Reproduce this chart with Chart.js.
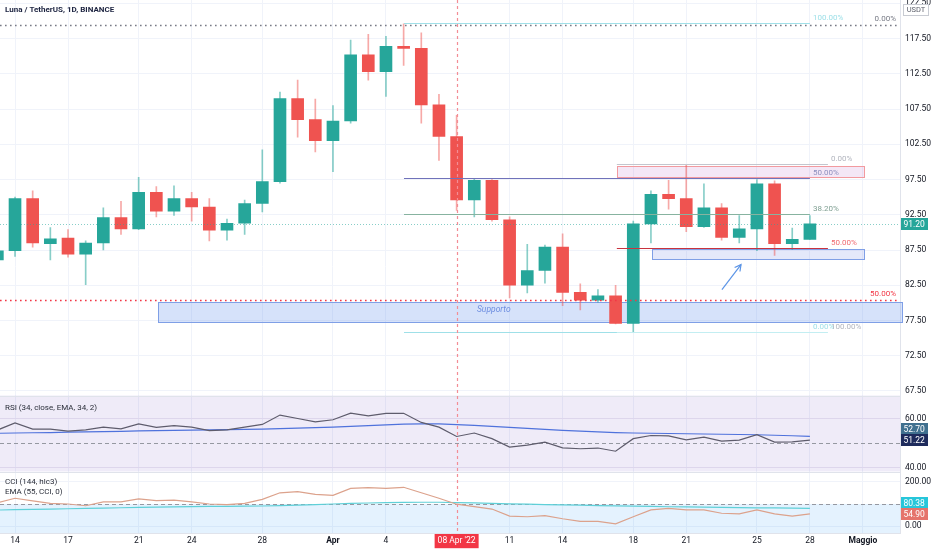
<!DOCTYPE html>
<html>
<head>
<meta charset="utf-8">
<title>Luna / TetherUS</title>
<script src="https://cdn.jsdelivr.net/npm/chart.js@4.4.1/dist/chart.umd.min.js"></script>
<style>
  body { margin: 0; background: #ffffff; }
  #box { width: 932px; height: 550px; }
</style>
</head>
<body>
<div id="box"><canvas id="lunaChart" width="932" height="550"></canvas></div>
<script>
    // day 0 = 14 Mar 2022, one daily candle from 13 Mar to 28 Apr
    var days  = [-1, 0, 1, 2, 3, 4, 5, 6, 7, 8, 9, 10, 11, 12, 13, 14, 15, 16, 17, 18, 19, 20, 21, 22, 23,
                 24, 25, 26, 27, 28, 29, 30, 31, 32, 33, 34, 35, 36, 37, 38, 39, 40, 41, 42, 43, 44, 45];
    var open  = [86.1, 87.4, 94.8, 88.4, 89.2, 86.9, 88.5, 92.1, 90.5, 95.7, 93.0, 94.8, 93.6, 90.3, 91.3, 94.1,
                 97.2, 109.0, 106.0, 103.0, 105.8, 115.2, 112.8, 116.4, 116.1, 108.1, 103.6, 94.6, 97.4, 91.8,
                 82.5, 84.6, 87.9, 81.5, 80.4, 81.0, 77.1, 91.2, 95.4, 94.8, 90.8, 93.5, 89.3, 90.5, 96.9, 88.4, 89.0];
    var high  = [88.0, 95.0, 95.9, 90.7, 90.4, 88.8, 93.5, 94.4, 97.8, 96.5, 96.6, 95.7, 94.8, 91.9, 94.6, 101.7,
                 109.9, 111.6, 108.9, 108.0, 117.3, 118.1, 117.8, 119.6, 118.3, 109.6, 106.6, 97.6, 97.5, 92.2,
                 88.3, 88.2, 89.8, 82.7, 81.9, 82.5, 91.6, 95.9, 97.4, 99.5, 96.9, 94.1, 92.4, 97.5, 97.3, 90.6, 92.4];
    var low   = [85.6, 86.6, 87.9, 86.1, 86.5, 82.6, 87.5, 89.7, 90.4, 92.2, 92.4, 91.6, 88.8, 88.9, 89.7, 92.9,
                 97.0, 103.5, 101.4, 98.6, 105.5, 111.6, 109.3, 113.7, 105.5, 100.2, 93.1, 92.2, 91.6, 80.7,
                 81.4, 82.8, 79.6, 79.0, 80.1, 77.0, 75.8, 88.5, 93.3, 90.1, 90.7, 88.9, 88.5, 87.4, 86.75, 87.6, 89.0];
    var close = [87.4, 94.8, 88.5, 89.1, 86.9, 88.5, 92.1, 90.5, 95.7, 93.0, 94.8, 93.6, 90.3, 91.3, 94.1, 97.2,
                 109.0, 106.0, 103.0, 105.8, 115.2, 112.8, 116.4, 116.1, 108.1, 103.6, 94.6, 97.4, 91.8, 82.5,
                 84.6, 87.9, 81.5, 80.4, 81.0, 77.1, 91.2, 95.4, 94.8, 90.8, 93.5, 89.3, 90.5, 96.9, 88.4, 89.0, 91.2];

    var rsi    = [55.3, 58.2, 55.7, 55.7, 54.9, 55.4, 56.5, 55.8, 57.8, 56.4, 57.1, 56.5, 55.1, 55.4, 56.5, 57.6,
                  61.4, 60.0, 58.6, 59.5, 62.2, 61.1, 62.1, 62.1, 58.4, 56.5, 52.7, 54.1, 51.8, 48.4, 49.2, 50.4,
                  48.1, 47.7, 48.0, 46.7, 51.8, 53.1, 52.9, 51.3, 52.4, 50.8, 51.2, 53.4, 50.4, 50.5, 51.22];
    var rsiEma = [54.0, 54.1, 54.2, 54.3, 54.5, 54.6, 54.7, 54.8, 55.0, 55.1, 55.2, 55.3, 55.4, 55.5, 55.6, 55.7,
                  55.9, 56.1, 56.3, 56.5, 56.8, 57.1, 57.4, 57.7, 57.8, 57.8, 57.5, 57.2, 56.8, 56.4, 56.0, 55.6,
                  55.2, 54.9, 54.6, 54.3, 54.1, 54.0, 53.9, 53.8, 53.7, 53.6, 53.5, 53.4, 53.2, 53.0, 52.7];
    var cci    = [105, 126, 114, 103, 100, 92, 110, 110, 123, 115, 118, 110, 100, 97, 103, 121, 151, 156, 144,
                  139, 171, 174, 171, 176, 151, 126, 99, 88, 77, 45, 42, 47, 33, 21, 21, 10, 42, 73, 80, 73, 73,
                  58, 55, 73, 55, 45, 54.9];
    var cciEma = [72.5, 74, 75.5, 77, 78.5, 80, 81.5, 83, 85, 86, 87, 88, 89, 89.5, 90, 91, 93, 95, 97.5,
                  100, 102.5, 104.5, 106, 107.5, 108, 108, 106.5, 105, 103, 100.5, 99, 97.5, 96, 94.5, 93, 91.5,
                  90, 88.8, 87.6, 86.5, 85.5, 84.5, 83.6, 82.8, 82, 81.2, 80.38];

    var tickDays   = [0, 3, 7, 10, 14, 18, 21, 25, 28, 31, 35, 38, 42, 45, 48];
    var tickLabels = ['14', '17', '21', '24', '28', 'Apr', '4', "08 Apr '22", '11', '14', '18', '21', '25', '28', 'Maggio'];
    var monthDays  = [18, 48];
    var priceTicks = [67.5, 72.5, 77.5, 82.5, 87.5, 92.5, 97.5, 102.5, 107.5, 112.5, 117.5, 122.5];
    var rsiTicks   = [40, 60];
    var cciTicks   = [0, 200];

    // drawings on the chart, in days / price units
    var cursorDay   = 25;
    var topLevel    = 119.42;
    var midLevel    = 80.36;
    var supportZone = { from: 8.1, to: 55, top: 80.07, bottom: 77.23 };
    var rangeZone   = { from: 34.07, to: 48.07, top: 99.43, bottom: 97.87 };
    var retestZone  = { from: 36.07, to: 48.07, top: 87.64, bottom: 86.22 };
    var fibDrop     = { from: 22.02, to: 45, high: 119.7, low: 75.85, levels: [1, 0.5, 0.382, 0] };
    var fibBounce   = { from: 34.07, to: 46.02, high: 99.67, low: 75.85, levels: [0, 0.5, 1] };
    var arrowFrom   = [40.02, 81.88], arrowTo = [41.1, 85.43];
    var rsiBand = [70, 30], rsiMid = 50, cciBand = [100, -100];

    var up = '#26a69a', down = '#ef5350';
    var font = 'Roboto, "Noto Sans", sans-serif';
    Chart.defaults.font.family = font;
    Chart.defaults.font.size = 8.5;
    Chart.defaults.color = '#131722';

    var bodyColors = open.map(function (o, i) { return close[i] >= o ? up : down; });
    var wickColors = open.map(function (o, i) { return close[i] >= o ? 'rgba(38,166,154,0.55)' : 'rgba(239,83,80,0.5)'; });
    var bodies = days.map(function (d, i) { return { x: d, y: [open[i], close[i]] }; });
    var wicks = days.map(function (d, i) { return { x: d, y: [low[i], high[i]] }; });
    function series(vals) { return days.map(function (d, i) { return { x: d, y: vals[i] }; }); }

    function hline(c, chart, x1, x2, y, color, width, dash) {
        c.save();
        c.strokeStyle = color;
        c.lineWidth = width;
        c.setLineDash(dash || []);
        var py = Math.round(y) + 0.5;
        c.beginPath(); c.moveTo(x1, py); c.lineTo(x2, py); c.stroke();
        c.restore();
    }
    function label(c, text, x, y, color, f, align, base) {
        c.fillStyle = color;
        c.font = f || ('8px ' + font);
        c.textAlign = align || 'left';
        c.textBaseline = base || 'bottom';
        c.fillText(text, x, y);
    }
    function zone(c, chart, z, fill, stroke) {
        var xs = chart.scales.x, ys = chart.scales.y, a = chart.chartArea;
        var l = Math.round(xs.getPixelForValue(z.from)), r = Math.round(Math.min(xs.getPixelForValue(z.to), a.right + 2));
        var t = Math.round(ys.getPixelForValue(z.top)), b = Math.round(ys.getPixelForValue(z.bottom));
        c.fillStyle = fill;
        c.fillRect(l, t, r - l, b - t);
        c.strokeStyle = stroke;
        c.lineWidth = 1;
        c.strokeRect(l + 0.5, t + 0.5, r - l, b - t);
    }
    function band(c, a, scale, lim, color) {
        var t = Math.max(scale.getPixelForValue(lim[0]), scale.top);
        var b = Math.min(scale.getPixelForValue(lim[1]), scale.bottom);
        c.fillStyle = color;
        c.fillRect(a.left, t, a.right - a.left, b - t);
    }
    function tag(c, chart, y, text, bg) {
        var a = chart.chartArea;
        c.fillStyle = bg;
        c.fillRect(a.right + 1, Math.round(y) - 6, 27, 12);
        label(c, text, a.right + 3.5, Math.round(y) + 0.5, '#ffffff', '8.5px ' + font, 'left', 'middle');
    }
    function tagPair(c, chart, scale, hiVal, hiColor, loVal, loColor) {
        var yHi = scale.getPixelForValue(hiVal), yLo = scale.getPixelForValue(loVal);
        if (yLo - yHi < 11) yHi = yLo - 11;
        tag(c, chart, yHi, hiVal.toFixed(2), hiColor);
        tag(c, chart, yLo, loVal.toFixed(2), loColor);
    }

    var overlays = {
        id: 'overlays',
        beforeDatasetsDraw: function (chart) {
            var c = chart.ctx, s = chart.scales, a = chart.chartArea;
            c.save();
            band(c, a, s.yRsi, rsiBand, 'rgba(126,87,194,0.12)');
            band(c, a, s.yCci, cciBand, 'rgba(33,150,243,0.12)');
            hline(c, chart, a.left, a.right, s.yRsi.getPixelForValue(rsiMid), '#9598a1', 1, [4, 3]);
            hline(c, chart, a.left, a.right, s.yCci.getPixelForValue(cciBand[0]), '#9598a1', 1, [4, 3]);
            zone(c, chart, supportZone, 'rgba(120,160,240,0.3)', '#7f9fe6');
            zone(c, chart, rangeZone, 'rgba(186,104,200,0.16)', '#f29a9f');
            zone(c, chart, retestZone, 'rgba(120,140,230,0.2)', '#7f9fe6');
            // pane separators
            hline(c, chart, a.left, a.right, s.y.bottom, '#e0e3eb', 1);
            hline(c, chart, a.left, a.right, s.yRsi.bottom, '#e0e3eb', 1);
            c.restore();
        },
        afterDatasetsDraw: function (chart) {
            var c = chart.ctx, s = chart.scales, a = chart.chartArea, xs = s.x, ys = s.y;
            c.save();
            // long dotted levels
            hline(c, chart, a.left, a.right, ys.getPixelForValue(topLevel), '#787b86', 1.6, [1.6, 3.4]);
            label(c, '0.00%', a.right - 4, ys.getPixelForValue(topLevel) - 2, '#787b86', '8px ' + font, 'right');
            hline(c, chart, a.left, a.right, ys.getPixelForValue(midLevel), '#f23645', 1.6, [1.6, 3.4]);
            label(c, '50.00%', a.right - 4, ys.getPixelForValue(midLevel) - 2, '#f23645', '8px ' + font, 'right');
            // last price
            hline(c, chart, a.left, a.right, ys.getPixelForValue(close[close.length - 1]), 'rgba(38,166,154,0.55)', 1, [1, 2]);

            // fib retracement of the drop, levels measured from the low
            var dropColors = { 1: '#9fe0e8', 0.5: '#7072ba', 0.382: '#87b3a0', 0: '#9fe0e8' };
            var dropText = { 1: '#9fe0e8', 0.5: '#8d8fbf', 0.382: '#7f9f92', 0: '#9fe0e8' };
            var x1 = xs.getPixelForValue(fibDrop.from), x2 = xs.getPixelForValue(fibDrop.to);
            fibDrop.levels.forEach(function (lv) {
                var y = ys.getPixelForValue(fibDrop.low + lv * (fibDrop.high - fibDrop.low));
                hline(c, chart, x1, x2, y, dropColors[lv], 1.2);
                label(c, (lv * 100).toFixed(2) + '%', x2 + 3, y - 1, dropText[lv]);
            });
            // fib of the bounce, levels measured from the high
            var bColors = { 0: '#c3c6ce', 0.5: '#c9333e', 1: '#c3eef2' };
            var bText = { 0: '#b2b5be', 0.5: '#f06a70', 1: '#b2b5be' };
            var b1 = xs.getPixelForValue(fibBounce.from), b2 = xs.getPixelForValue(fibBounce.to);
            fibBounce.levels.forEach(function (lv) {
                var y = ys.getPixelForValue(fibBounce.high - lv * (fibBounce.high - fibBounce.low));
                hline(c, chart, b1, b2, y, bColors[lv], 1.2);
                label(c, (lv * 100).toFixed(2) + '%', b2 + 3, y - 1, bText[lv]);
            });

            label(c, 'Supporto', xs.getPixelForValue(26.15), ys.getPixelForValue(supportZone.top) + 3,
                  '#6e8ee0', 'italic 8.5px ' + font, 'left', 'top');

            // arrow
            var ax1 = xs.getPixelForValue(arrowFrom[0]), ay1 = ys.getPixelForValue(arrowFrom[1]);
            var ax2 = xs.getPixelForValue(arrowTo[0]), ay2 = ys.getPixelForValue(arrowTo[1]);
            var ang = Math.atan2(ay2 - ay1, ax2 - ax1), h = 7;
            c.strokeStyle = '#5b94e6';
            c.lineWidth = 1.2;
            c.beginPath(); c.moveTo(ax1, ay1); c.lineTo(ax2, ay2); c.stroke();
            c.beginPath();
            c.moveTo(ax2 - h * Math.cos(ang - 0.5), ay2 - h * Math.sin(ang - 0.5));
            c.lineTo(ax2, ay2);
            c.lineTo(ax2 - h * Math.cos(ang + 0.5), ay2 - h * Math.sin(ang + 0.5));
            c.stroke();

            // crosshair
            var cx = Math.round(xs.getPixelForValue(cursorDay)) + 0.5;
            c.strokeStyle = '#f38d95';
            c.lineWidth = 1.2;
            c.setLineDash([3, 3]);
            c.beginPath(); c.moveTo(cx, a.top); c.lineTo(cx, a.bottom); c.stroke();
            c.setLineDash([]);

            // titles
            label(c, 'Luna / TetherUS, 1D, BINANCE', 5, 10, '#1c2340', 'bold 8px ' + font, 'left', 'middle');
            label(c, 'RSI (34, close, EMA, 34, 2)', 5, s.yRsi.top + 12, '#2a2e39', '8px ' + font, 'left', 'middle');
            label(c, 'CCI (144, hlc3)', 5, s.yCci.top + 10, '#2a2e39', '8px ' + font, 'left', 'middle');
            label(c, 'EMA (55, CCI, 0)', 5, s.yCci.top + 20, '#2a2e39', '8px ' + font, 'left', 'middle');
            c.restore();
        },
        afterDraw: function (chart) {
            var c = chart.ctx, s = chart.scales, a = chart.chartArea;
            c.save();
            tag(c, chart, s.y.getPixelForValue(close[close.length - 1]), close[close.length - 1].toFixed(2), up);
            tagPair(c, chart, s.yRsi, rsiEma[rsiEma.length - 1], '#40708f', rsi[rsi.length - 1], '#1e2b5c');
            tagPair(c, chart, s.yCci, cciEma[cciEma.length - 1], '#26c6da', cci[cci.length - 1], '#e5736b');
            // currency box
            c.fillStyle = '#ffffff';
            c.fillRect(a.right + 3, 4, 26, 12);
            c.strokeStyle = '#c8cbd2';
            c.lineWidth = 1;
            c.strokeRect(a.right + 3.5, 4.5, 25, 11);
            label(c, 'USDT', a.right + 16, 10.5, '#5d606b', '7.5px ' + font, 'center', 'middle');
            c.restore();
        }
    };

    function fixWidth(scale) { scale.width = 32; scale.paddingTop = 0; scale.paddingBottom = 0; }
    function setTicks(list) { return function (scale) { scale.ticks = list.map(function (v) { return { value: v }; }); }; }
    function twoDec(v) { return Number(v).toFixed(2); }

    var ctx = document.getElementById('lunaChart').getContext('2d');
    var lunaChart = new Chart(ctx, {
        type: 'bar',
        data: {
            datasets: [
                { label: 'Body', data: bodies, backgroundColor: bodyColors, barThickness: 12, grouped: false, order: 1, yAxisID: 'y' },
                { label: 'Wick', data: wicks, backgroundColor: wickColors, barThickness: 1, grouped: false, order: 2, yAxisID: 'y' },
                { type: 'line', label: 'RSI', data: series(rsi), yAxisID: 'yRsi', borderColor: '#5e5c6c', borderWidth: 1.2, pointRadius: 0 },
                { type: 'line', label: 'RSI EMA', data: series(rsiEma), yAxisID: 'yRsi', borderColor: '#4f72dc', borderWidth: 1.2, pointRadius: 0 },
                { type: 'line', label: 'CCI', data: series(cci), yAxisID: 'yCci', borderColor: '#dca28c', borderWidth: 1.2, pointRadius: 0 },
                { type: 'line', label: 'CCI EMA', data: series(cciEma), yAxisID: 'yCci', borderColor: '#5fd0d8', borderWidth: 1.2, pointRadius: 0 }
            ]
        },
        options: {
            responsive: false,
            animation: false,
            layout: { padding: 0 },
            plugins: {
                legend: { display: false },
                tooltip: { enabled: false }
            },
            scales: {
                x: {
                    type: 'linear',
                    min: -0.85,
                    max: 50.1,
                    offset: false,
                    afterBuildTicks: setTicks(tickDays),
                    afterFit: function (scale) { scale.height = 17; scale.paddingLeft = 0; scale.paddingRight = 0; },
                    grid: {
                        offset: false,
                        drawTicks: false,
                        color: function (c) { return c.tick && c.tick.value === cursorDay ? 'rgba(0,0,0,0)' : '#f0f3fa'; }
                    },
                    border: { color: '#e0e3eb' },
                    ticks: {
                        autoSkip: false,
                        maxRotation: 0,
                        padding: 3,
                        callback: function (v, i) { return tickLabels[i]; },
                        color: function (c) { return c.tick && c.tick.value === cursorDay ? '#ffffff' : '#131722'; },
                        font: function (c) {
                            var bold = c.tick && monthDays.indexOf(c.tick.value) >= 0;
                            return { family: font, size: 8.5, weight: bold ? 'bold' : 'normal' };
                        },
                        showLabelBackdrop: function (c) { return !!(c.tick && c.tick.value === cursorDay); },
                        backdropColor: '#f23645',
                        backdropPadding: { x: 3, y: 2 }
                    }
                },
                y: {
                    position: 'right',
                    stack: 'panes',
                    stackWeight: 395.5,
                    min: 66.86,
                    max: 122.97,
                    afterBuildTicks: setTicks(priceTicks),
                    afterFit: fixWidth,
                    grid: { color: '#f0f3fa', drawTicks: false },
                    border: { color: '#e0e3eb' },
                    ticks: { autoSkip: false, padding: 5, callback: twoDec }
                },
                yRsi: {
                    position: 'right',
                    stack: 'panes',
                    stackWeight: 76,
                    min: 38.46,
                    max: 69.35,
                    afterBuildTicks: setTicks(rsiTicks),
                    afterFit: fixWidth,
                    grid: { color: '#ebe8f2', drawTicks: false },
                    border: { color: '#e0e3eb' },
                    ticks: { autoSkip: false, padding: 5, callback: twoDec }
                },
                yCci: {
                    position: 'right',
                    stack: 'panes',
                    stackWeight: 61.5,
                    min: -31.8,
                    max: 247.7,
                    afterBuildTicks: setTicks(cciTicks),
                    afterFit: fixWidth,
                    grid: { color: '#f0f3fa', drawTicks: false },
                    border: { color: '#e0e3eb' },
                    ticks: { autoSkip: false, padding: 5, callback: twoDec }
                }
            }
        },
        plugins: [overlays]
    });
</script>
</body>
</html>
